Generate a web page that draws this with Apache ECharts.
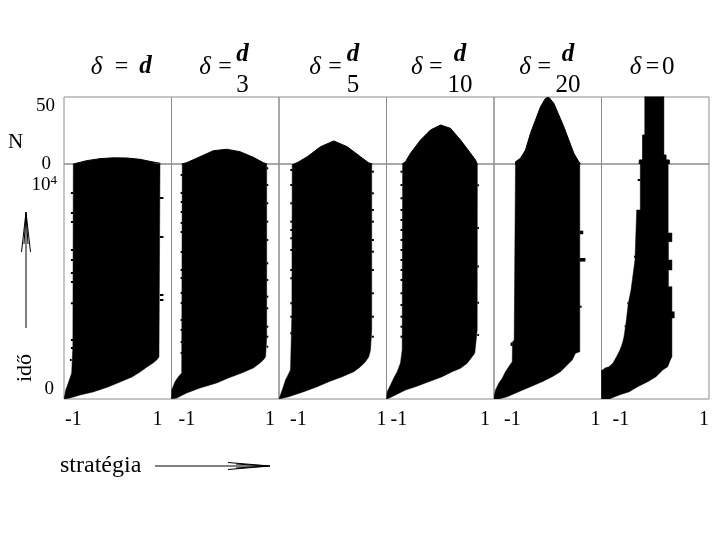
<!DOCTYPE html>
<html><head><meta charset="utf-8">
<script src="https://cdn.jsdelivr.net/npm/echarts@6/dist/echarts.min.js"></script>
<style>html,body{margin:0;padding:0;background:#fff}#c{width:720px;height:540px}</style>
</head><body><div id="c"></div>
<script>
// ---------- data ----------
const titleNumer = ['d', 'd', 'd', 'd', 'd', '0'];
const titleDenom = ['', '3', '5', '10', '20', ''];
const strategyTicks = ['-1', '1'];
const nTicks = [0, 50];
const timeTicks = [0, 10000];

// N(strategy) profiles, [strategy, N]
const profile1 = [[-0.827,0],[-0.827,0.7],[-0.578,2.5],[-0.33,4.0],[-0.088,4.6],[0.167,4.5],[0.414,3.5],[0.656,1.5],[0.786,0.6],[0.786,0]];
const profile2 = [[-0.81,0],[-0.717,1.0],[-0.47,5.4],[-0.222,9.9],[0.027,11.0],[0.274,9.2],[0.522,5.0],[0.708,1.0],[0.777,0]];
const profile3 = [[-0.725,0],[-0.661,1.0],[-0.475,5.4],[-0.228,12.9],[0.02,17.2],[0.269,12.9],[0.516,5.4],[0.665,1.0],[0.734,0]];
const profile4 = [[-0.708,0],[-0.647,1.7],[-0.553,8.0],[-0.367,17.9],[-0.181,25.4],[0.005,29.1],[0.191,26.6],[0.377,17.9],[0.563,8.0],[0.656,3.0],[0.688,0]];
const profile5 = [[-0.6,0],[-0.6,1.7],[-0.507,4.3],[-0.414,10.4],[-0.321,22.9],[-0.228,32.8],[-0.135,42.7],[-0.042,49.0],[0.02,49.8],[0.113,45.3],[0.206,36.6],[0.299,27.8],[0.392,17.9],[0.485,8.0],[0.578,1.7],[0.609,0]];
const profile6 = [[-0.3,0],[-0.295,3],[-0.233,21.6],[-0.191,95],[0.157,6.7],[0.2,3],[0.261,0]];

// strategy range over time: boundary points [time, strategy]
const left1 = [[0,-1],[187,-0.985],[421,-0.968],[749,-0.92],[1217,-0.857],[2500,-0.835],[11000,-0.827]];
const right1 = [[0,-1],[47,-0.888],[187,-0.702],[328,-0.46],[562,-0.181],[796,0.042],[1030,0.265],[1264,0.414],[1498,0.544],[1685,0.656],[1826,0.725],[1966,0.767],[11000,0.786]];
const left2 = [[0,-1],[421,-0.996],[810,-0.935],[1044,-0.872],[1217,-0.81],[11000,-0.80]];
const right2 = [[0,-1],[47,-0.903],[281,-0.717],[515,-0.47],[749,-0.159],[983,0.057],[1217,0.306],[1451,0.522],[1685,0.647],[1826,0.708],[1980,0.75],[2855,0.771],[11000,0.771]];
const left3 = [[0,-1],[108,-0.985],[421,-0.94],[889,-0.879],[1357,-0.786],[4000,-0.76],[11000,-0.754]];
const right3 = [[0,-1],[108,-0.818],[342,-0.539],[576,-0.289],[810,-0.073],[1044,0.176],[1278,0.392],[1512,0.516],[1746,0.609],[1980,0.671],[2294,0.702],[3230,0.725],[11000,0.725]];
const left4 = [[0,-1],[342,-0.987],[655,-0.926],[983,-0.864],[1278,-0.801],[1685,-0.74],[2294,-0.708],[11000,-0.70]];
const right4 = [[0,-1],[33,-0.957],[187,-0.833],[421,-0.647],[576,-0.46],[810,-0.213],[1044,0.036],[1278,0.222],[1437,0.377],[1671,0.501],[1980,0.594],[2139,0.642],[3230,0.687],[11000,0.69]];
const left5 = [[0,-1],[108,-1],[421,-0.972],[735,-0.911],[969,-0.847],[1278,-0.786],[1512,-0.725],[1746,-0.661],[2682,-0.655],[2750,-0.625],[11000,-0.60]];
const right5 = [[0,-0.911],[108,-0.754],[342,-0.539],[576,-0.321],[810,-0.103],[1044,0.083],[1278,0.237],[1592,0.362],[1826,0.455],[2139,0.516],[2214,0.596],[11000,0.596]];
const left6 = [[0,-1],[1357,-1],[1357,-0.978],[1451,-0.935],[1512,-0.86],[1685,-0.786],[1980,-0.72],[2294,-0.656],[2621,-0.609],[2916,-0.581],[3558,-0.544],[4480,-0.501],[5102,-0.451],[6506,-0.377],[8847,-0.345],[8848,-0.278],[11000,-0.278]];
const right6 = [[0,-0.85],[33,-0.823],[187,-0.669],[342,-0.483],[576,-0.327],[810,-0.14],[1044,0.014],[1357,0.139],[1512,0.232],[1826,0.28],[1980,0.31],[3792,0.31],[3792,0.354],[4087,0.354],[4087,0.31],[5257,0.31],[5257,0.245],[6038,0.245],[6038,0.31],[6506,0.31],[6506,0.245],[7363,0.245],[7363,0.31],[7770,0.31],[7770,0.24],[11000,0.24]];

// isolated strategies sticking out of the range: [time, strategy from, strategy to]
const spikes1 = [[9643,-0.827,-0.872],[8707,-0.827,-0.872],[8285,-0.827,-0.872],[6975,-0.827,-0.872],[6506,-0.827,-0.872],[5898,-0.827,-0.872],[5477,-0.827,-0.872],[4480,-0.827,-0.872],[2762,-0.83,-0.872],[2387,-0.83,-0.872],[1826,-0.857,-0.89],
  [9409,0.786,0.85],[7583,0.786,0.85],[4868,0.786,0.85],[4634,0.786,0.85]];
const spikes2 = [[10486,-0.8,-0.83],[9643,-0.8,-0.83],[9222,-0.8,-0.83],[8753,-0.8,-0.83],[8238,-0.8,-0.83],[7817,-0.8,-0.83],[6881,-0.8,-0.83],[6038,-0.8,-0.83],[5664,-0.8,-0.83],[4962,-0.8,-0.83],[4494,-0.8,-0.83],[3698,-0.8,-0.83],[3230,-0.8,-0.83],[2668,-0.8,-0.83],[2153,-0.8,-0.83],
  [10799,0.771,0.8],[10017,0.771,0.8],[9161,0.771,0.8],[8300,0.771,0.8],[7443,0.771,0.8],[6352,0.771,0.8],[5571,0.771,0.8],[4789,0.771,0.8],[4246,0.771,0.8],[3384,0.771,0.8],[2916,0.771,0.8],[2448,0.771,0.8]];
const spikes3 = [[10720,-0.754,-0.79],[10017,-0.754,-0.79],[9161,-0.754,-0.79],[8300,-0.754,-0.79],[7911,-0.754,-0.79],[7522,-0.754,-0.79],[6975,-0.754,-0.79],[6038,-0.754,-0.79],[5650,-0.754,-0.79],[4480,-0.76,-0.79],[3853,-0.76,-0.79],[3075,-0.76,-0.79],
  [10642,0.725,0.765],[9628,0.725,0.765],[8847,0.725,0.765],[8300,0.725,0.765],[7443,0.725,0.765],[6895,0.725,0.765],[6038,0.725,0.765],[4948,0.725,0.765],[3853,0.725,0.765],[2916,0.725,0.765]];
const spikes4 = [[10642,-0.7,-0.74],[10017,-0.7,-0.74],[9395,-0.7,-0.74],[8847,-0.7,-0.74],[8379,-0.7,-0.74],[7911,-0.7,-0.74],[7443,-0.7,-0.74],[6975,-0.7,-0.74],[6506,-0.7,-0.74],[6038,-0.7,-0.74],[5571,-0.7,-0.74],[4948,-0.7,-0.74],[4400,-0.7,-0.74],[3853,-0.7,-0.74],[3384,-0.7,-0.74],[2916,-0.7,-0.74],
  [10000,0.69,0.72],[8000,0.69,0.72],[6200,0.69,0.72],[4500,0.69,0.72],[3000,0.69,0.72]];
const spikes5 = [[7831,0.596,0.66],[7760,0.596,0.66],[6553,0.596,0.70],[6480,0.596,0.70],[4321,0.596,0.63],[2600,-0.655,-0.69],[2530,-0.655,-0.69]];
const spikes6 = [[10252,-0.278,-0.327],[6661,-0.377,-0.395],[4480,-0.501,-0.52],[3400,-0.55,-0.57]];

const profiles = [profile1, profile2, profile3, profile4, profile5, profile6];
const lefts = [left1, left2, left3, left4, left5, left6];
const rights = [right1, right2, right3, right4, right5, right6];
const spikes = [spikes1, spikes2, spikes3, spikes4, spikes5, spikes6];

// ---------- layout ----------
const SERIF = 'Liberation Serif';
const L0 = 64, PW = 107.5;
const TOP = 97, TOPH = 67, BOT = 164, BOTH = 235;
const GRIDLINE = '#8c8c8c';
const minLabelPad = [1, 7, 11, 4, 10, 11];
const maxLabelPad = [9, 4, 0, 4, 1, 0];

const grids = [], xAxes = [], yAxes = [], series = [];
for (let i = 0; i < 6; i++) {
  grids.push({left: L0 + PW * i, top: TOP, width: PW, height: TOPH, show: true, borderColor: GRIDLINE, borderWidth: 1, outerBoundsMode: 'none'});
}
for (let i = 0; i < 6; i++) {
  grids.push({left: L0 + PW * i, top: BOT, width: PW, height: BOTH, show: true, borderColor: GRIDLINE, borderWidth: 1, outerBoundsMode: 'none'});
}
for (let i = 0; i < 6; i++) {
  xAxes.push({gridIndex: i, type: 'value', min: -1, max: 1, show: false});
  yAxes.push({gridIndex: i, type: 'value', min: nTicks[0], max: nTicks[1], interval: nTicks[1] - nTicks[0], show: i === 0,
    axisLine: {show: false}, axisTick: {show: false}, splitLine: {show: false},
    axisLabel: {fontFamily: SERIF, fontSize: 19, color: '#000', margin: 9, verticalAlignMaxLabel: 'top',
      formatter: v => v === nTicks[0] ? '{z|' + v + '}' : (v === nTicks[1] ? String(v) : ''),
      rich: {z: {fontFamily: SERIF, fontSize: 19, color: '#000', padding: [0, 4, 0, 0]}}}});
}
for (let i = 0; i < 6; i++) {
  xAxes.push({gridIndex: 6 + i, type: 'value', min: -1, max: 1, interval: 2,
    axisLine: {show: false}, axisTick: {show: false}, splitLine: {show: false},
    axisLabel: {fontFamily: SERIF, fontSize: 20, color: '#000', margin: 11, alignMinLabel: 'left', alignMaxLabel: 'right',
      showMinLabel: true, showMaxLabel: true,
      formatter: v => v === -1 ? '{l|' + strategyTicks[0] + '}' : (v === 1 ? '{r|' + strategyTicks[1] + '}' : ''),
      rich: {
        l: {fontFamily: SERIF, fontSize: 20, color: '#000', padding: [0, 0, 0, minLabelPad[i]]},
        r: {fontFamily: SERIF, fontSize: 20, color: '#000', padding: [0, maxLabelPad[i], 0, 0]}
      }}});
  yAxes.push({gridIndex: 6 + i, type: 'value', min: 0, max: 11000, interval: 10000, show: i === 0,
    axisLine: {show: false}, axisTick: {show: false}, splitLine: {show: false},
    axisLabel: {fontFamily: SERIF, fontSize: 19, color: '#000', margin: 7, verticalAlignMinLabel: 'bottom',
      formatter: v => v === timeTicks[0] ? '{z|0}' : (v === timeTicks[1] ? '{a|10}{s|4}' : ''),
      rich: {z: {fontFamily: SERIF, fontSize: 19, color: '#000', padding: [0, 3, 0, 0]},
        a: {fontFamily: SERIF, fontSize: 19, color: '#000'}, s: {fontFamily: SERIF, fontSize: 13, color: '#000', verticalAlign: 'top', padding: [0, 0, 9, 0]}}}});
}

for (let i = 0; i < 6; i++) {
  series.push({type: 'line', xAxisIndex: i, yAxisIndex: i, data: profiles[i], symbol: 'none', showSymbol: false,
    step: i === 5 ? 'end' : false, clip: true, silent: true, animation: false,
    lineStyle: {color: '#000', width: 1}, areaStyle: {color: '#000', opacity: 1}});
  series.push({type: 'custom', xAxisIndex: 6 + i, yAxisIndex: 6 + i, data: [[0, 0]], clip: true, silent: true, animation: false,
    renderItem: (params, api) => {
      const pts = lefts[i].map(q => api.coord([q[1], q[0]]))
        .concat(rights[i].slice().reverse().map(q => api.coord([q[1], q[0]])));
      return {type: 'polygon', shape: {points: pts}, style: {fill: '#000', stroke: '#000', lineWidth: 0.5}};
    }});
  series.push({type: 'custom', xAxisIndex: 6 + i, yAxisIndex: 6 + i, data: spikes[i], encode: {x: [1, 2], y: 0},
    clip: true, silent: true, animation: false,
    renderItem: (params, api) => {
      const a = api.coord([api.value(1), api.value(0)]);
      const b = api.coord([api.value(2), api.value(0)]);
      return {type: 'rect', shape: {x: Math.min(a[0], b[0]), y: a[1] - 1, width: Math.abs(b[0] - a[0]), height: 2}, style: {fill: '#000'}};
    }});
}

// titles
const deltaX = [96.5, 205, 315, 416.7, 525, 635.5];
const eqX = [121.5, 225, 335, 435.8, 544.2, 652.5];
const termX = [145.5, 242.5, 353, 460, 568, 668.3];
const graphics = [];
function txt(x, y, text, size, style, weight, align, rot) {
  return {type: 'text', x: x, y: y, rotation: rot || 0, silent: true,
    style: {text: text, fontFamily: SERIF, fontSize: size, fontStyle: style || 'normal', fontWeight: weight || 'normal',
      fill: '#000', align: align || 'center', verticalAlign: 'middle'}};
}
for (let i = 0; i < 6; i++) {
  graphics.push(txt(deltaX[i], 67, 'δ', 25, 'italic'));
  graphics.push(txt(eqX[i], 67, '=', 24));
  const isD = titleNumer[i] === 'd';
  if (titleDenom[i]) {
    graphics.push(txt(termX[i], 55, titleNumer[i], 25, 'italic', 'bold'));
    graphics.push(txt(termX[i], 85, titleDenom[i], 25));
  } else {
    graphics.push(txt(termX[i], 67, titleNumer[i], 25, isD ? 'italic' : 'normal', isD ? 'bold' : 'normal'));
  }
}
graphics.push(txt(15.5, 142.5, 'N', 21));
graphics.push(txt(25, 368, 'idő', 22, 'normal', 'normal', 'center', Math.PI / 2));
graphics.push(txt(60, 466, 'stratégia', 24, 'normal', 'normal', 'left'));
const ln = (pts) => ({type: 'polyline', silent: true, shape: {points: pts}, style: {stroke: '#000', lineWidth: 1, fill: null}});
// vertical arrow
graphics.push(ln([[26, 328], [26, 212]]));
graphics.push(ln([[21.5, 252], [26, 212], [30.5, 252]]));
graphics.push(ln([[24, 244], [26, 214], [28, 244]]));
// horizontal arrow
graphics.push(ln([[155, 466], [270, 466]]));
graphics.push(ln([[228, 462.5], [270, 466], [228, 469.5]]));
graphics.push(ln([[236, 464], [268, 466], [236, 468]]));

const chart = echarts.init(document.getElementById('c'), null, {renderer: 'canvas'});
chart.setOption({animation: false, backgroundColor: '#fff', grid: grids, xAxis: xAxes, yAxis: yAxes, series: series, graphic: graphics});
</script></body></html>
